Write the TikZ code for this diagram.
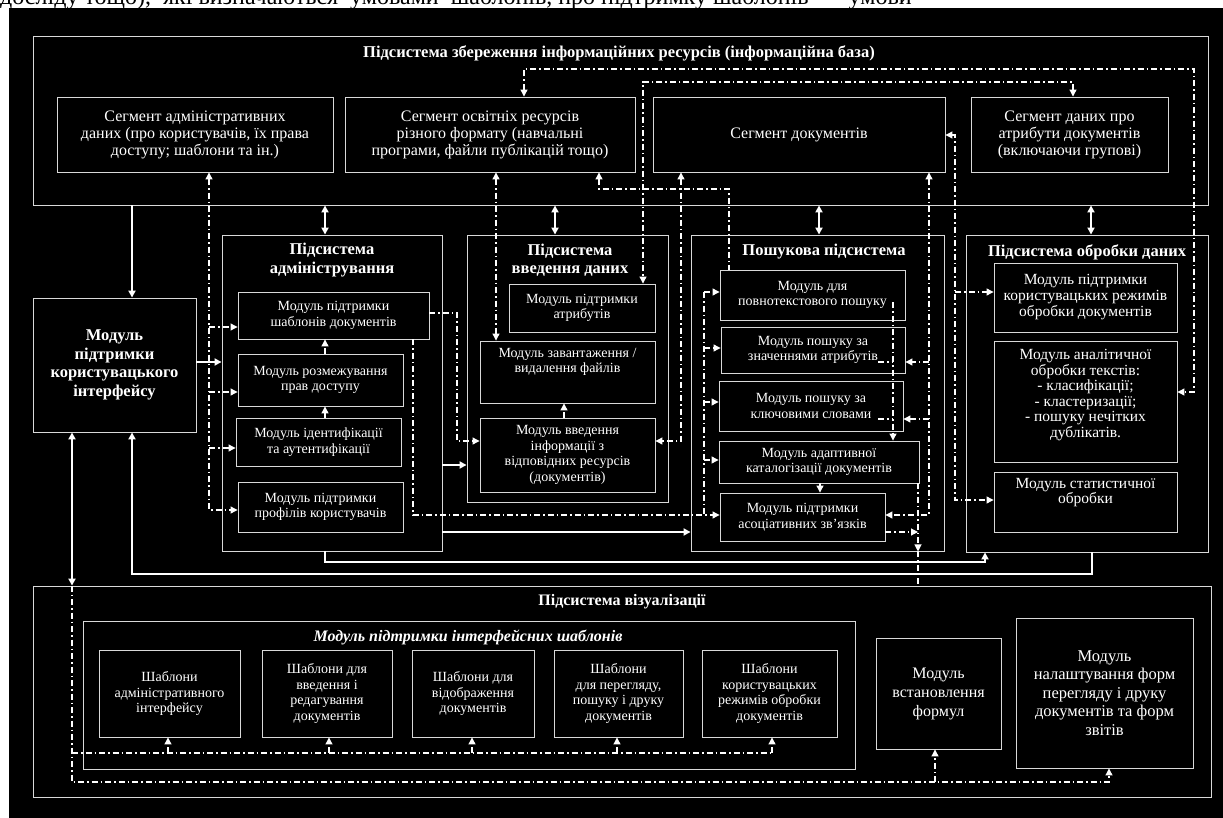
\documentclass[tikz,border=0pt]{standalone}
\usepackage{fontspec}
\setmainfont{Liberation Serif}
\usetikzlibrary{arrows.meta,calc}
\begin{document}
\begin{tikzpicture}[x=1pt,y=-1pt,
  >={Triangle[length=7pt,width=7pt]},
  box/.style={draw=white!85!black, line width=0.9pt, text=white, align=center, inner sep=0pt,
    font=\fontsize{14}{15.5}\selectfont},
  segbox/.style={box, font=\fontsize{16}{17}\selectfont},
  pbox/.style={box, font=\fontsize{15.5}{16}\selectfont},
  txt/.style={text=white, align=center, inner sep=0pt, font=\fontsize{14}{15.5}\selectfont},
  ptxt/.style={txt, font=\fontsize{15.5}{15.6}\selectfont},
  ttl/.style={text=white, align=center, inner sep=0pt, font=\bfseries\fontsize{16.5}{18.5}\selectfont},
  sol/.style={draw=white, line width=1.8pt},
  dd/.style={draw=white, line width=1.1pt, dash pattern=on 6pt off 3pt on 1.5pt off 3pt}
]
\useasboundingbox (0,0) rectangle (1223,818);
\fill[white] (0,0) rectangle (1223,818);
\fill[black] (9,8) rectangle (1223,818);
\begin{scope}
\clip (0,0) rectangle (1223,8);
\node[anchor=base west, inner sep=0pt, font=\fontsize{24}{24}\selectfont] (cuttext) at (0,5)
  {досліду тощо),\ \ які визначаються\ \ умовами\ \ шаблонів, про підтримку шаблонів\hspace{40pt}умови};
\end{scope}

% helper coordinates
\foreach \n in {72,132,168,209,325,329,413,457,472,496,524,555,564,599,617,643,681,704,729,772,773,819,820,878,893,918,929,935,955,985,1073,1091,1092,1109,1194}
  {\coordinate (v\n) at (\n,0);}
\foreach \n in {69,82,135,189,292,302,313,327,348,362,392,402,419,441,448,460,465,500,510,515,532,562,574,753,782}
  {\coordinate (h\n) at (0,\n);}

% ---------- storage subsystem ----------
\node[box, minimum width=1175pt, minimum height=169pt] (storage) at (620.5,120.5) {};
\node[ttl, font=\bfseries\fontsize{16.5}{17}\selectfont] (storaget) at (619,53)
  {Підсистема збереження інформаційних ресурсів (інформаційна база)};
\node[segbox, minimum width=276pt, minimum height=75pt] (seg1) at (195,134.5)
  {Сегмент адміністративних\\даних (про користувачів, їх права\\доступу; шаблони та ін.)};
\node[segbox, minimum width=290pt, minimum height=75pt] (seg2) at (490,134.5)
  {Сегмент освітніх ресурсів\\різного формату (навчальні\\програми, файли публікацій тощо)};
\node[segbox, minimum width=292pt, minimum height=75pt] (seg3) at (799,134.5)
  {Сегмент документів};
\node[segbox, minimum width=197pt, minimum height=75pt] (seg4) at (1069.5,134.5)
  {Сегмент даних про\\атрибути документів\\(включаючи групові)};

% ---------- UI module ----------
\node[box, minimum width=163pt, minimum height=134pt, font=\bfseries\fontsize{16.5}{18.5}\selectfont] (ui) at (114.5,365)
  {Модуль\\підтримки\\користувацького\\інтерфейсу};

% ---------- admin subsystem ----------
\node[box, minimum width=220pt, minimum height=316pt] (admin) at (332,393) {};
\node[ttl] (admint) at (332,260) {Підсистема\\адміністрування};
\node[box, minimum width=191pt, minimum height=47pt] (A1) at (333.5,315.5) {Модуль підтримки\\шаблонів документів};
\node[box, minimum width=165pt, minimum height=52pt] (A2) at (320.5,380) {Модуль розмежування\\прав доступу};
\node[box, minimum width=165pt, minimum height=48pt] (A3) at (318.5,442) {Модуль ідентифікації\\та аутентифікації};
\node[box, minimum width=165pt, minimum height=50pt] (A4) at (320.5,507) {Модуль підтримки\\профілів користувачів};

% ---------- data entry subsystem ----------
\node[box, minimum width=201pt, minimum height=267pt] (entry) at (567.5,368.5) {};
\node[ttl] (entryt) at (570,260) {Підсистема\\введення даних};
\node[box, minimum width=146pt, minimum height=48pt] (D1) at (582,308) {Модуль підтримки\\атрибутів};
\node[box, minimum width=175pt, minimum height=62pt] (D2) at (567.5,372) {};
\node[txt] (D2t) at (567.5,362) {Модуль завантаження /\\видалення файлів};
\node[box, minimum width=175pt, minimum height=74pt] (D3) at (567.5,455)
  {Модуль введення\\інформації з\\відповідних ресурсів\\(документів)};

% ---------- search subsystem ----------
\node[box, minimum width=253pt, minimum height=316pt] (search) at (817.5,393) {};
\node[ttl] (searcht) at (824,252) {Пошукова підсистема};
\node[box, minimum width=185pt, minimum height=50pt] (S1) at (812.5,295) {Модуль для\\повнотекстового пошуку};
\node[box, minimum width=184pt, minimum height=46pt] (S2) at (813,350) {Модуль пошуку за\\значеннями атрибутів};
\node[box, minimum width=184pt, minimum height=50pt] (S3) at (811,406) {Модуль пошуку за\\ключовими словами};
\node[box, minimum width=200pt, minimum height=42pt] (S4) at (819,462) {Модуль адаптивної\\каталогізації документів};
\node[box, minimum width=165pt, minimum height=48pt] (S5) at (802.5,517) {Модуль підтримки\\асоціативних зв’язків};

% ---------- processing subsystem ----------
\node[box, minimum width=242pt, minimum height=317pt] (proc) at (1087,393.5) {};
\node[ttl] (proct) at (1087,252) {Підсистема обробки даних};
\node[pbox, minimum width=183pt, minimum height=69pt] (P1) at (1085.5,297.5)
  {Модуль підтримки\\користувацьких режимів\\обробки документів};
\node[box, minimum width=183pt, minimum height=121pt] (P2) at (1085.5,401.5) {};
\node[ptxt] (P2t) at (1085.5,395)
  {Модуль аналітичної\\обробки текстів:\\- класифікації;\\- кластеризації;\\- пошуку нечітких\\дублікатів.};
\node[box, minimum width=183pt, minimum height=60pt] (P3) at (1085.5,502) {};
\node[ptxt] (P3t) at (1085.5,492.5) {Модуль статистичної\\обробки};

% ---------- visualization subsystem ----------
\node[box, minimum width=1178pt, minimum height=211pt] (vis) at (622,691.5) {};
\node[ttl, font=\bfseries\fontsize{16}{17}\selectfont] (vist) at (622,602) {Підсистема візуалізації};
\node[box, minimum width=772pt, minimum height=148pt] (inner) at (469,695) {};
\node[ttl, font=\bfseries\itshape\fontsize{16}{18}\selectfont] (innert) at (468,637) {Модуль підтримки інтерфейсних шаблонів};
\node[box, minimum width=141pt, minimum height=87pt] (T1) at (169.5,693.5) {Шаблони\\адміністративного\\інтерфейсу};
\node[box, minimum width=130pt, minimum height=87pt] (T2) at (327,693.5) {Шаблони для\\введення і\\редагування\\документів};
\node[box, minimum width=122pt, minimum height=87pt] (T3) at (473,693.5) {Шаблони для\\відображення\\документів};
\node[box, minimum width=129pt, minimum height=87pt] (T4) at (618.5,693.5) {Шаблони\\для перегляду,\\пошуку і друку\\документів};
\node[box, minimum width=135pt, minimum height=87pt] (T5) at (769.5,693.5) {Шаблони\\користувацьких\\режимів обробки\\документів};
\node[box, minimum width=125pt, minimum height=111pt, font=\fontsize{16}{19}\selectfont] (F) at (938.5,693.5) {Модуль\\встановлення\\формул};
\node[box, minimum width=177pt, minimum height=150pt, font=\fontsize{16.5}{18.5}\selectfont] (M) at (1104.5,693)
  {Модуль\\налаштування форм\\перегляду і друку\\документів та форм\\звітів};

% ---------- solid connectors ----------
\draw[sol,->] (storage.south -| v132) -- (ui.north -| v132);
\draw[sol,->] (ui.east |- h362) -- (admin.west |- h362);
\draw[sol,<->] (storage.south -| v325) -- (admin.north -| v325);
\draw[sol,<->] (storage.south -| v555) -- (entry.north -| v555);
\draw[sol,<->] (storage.south -| v819) -- (search.north -| v819);
\draw[sol,<->] (storage.south -| v1091) -- (proc.north -| v1091);
\draw[sol,->] (admin.east |- h465) -- (entry.west |- h465);
\draw[sol,->] (admin.east |- h532) -- (search.west |- h532);
\draw[sol,->] (admin.south -| v325) -- (v325 |- h562) -- (v985 |- h562) -- (proc.south -| v985);
\draw[sol,->] (proc.south -| v1092) -- (v1092 |- h574) -- (v132 |- h574) -- (ui.south -| v132);
\draw[sol,<->] (ui.south -| v72) -- (vis.north -| v72);

% ---------- dash-dot connectors ----------
% segment 1 <-> admin modules
\draw[dd,<->] (seg1.south -| v209) -- (v209 |- h510) -- (A4.west |- h510);
\draw[dd,->] (v209 |- h327) -- (A1.west |- h327);
\draw[dd,->] (v209 |- h392) -- (A2.west |- h392);
\draw[dd,->] (v209 |- h448) -- (A3.west |- h448);
\draw[dd,->] (A2.north -| v325) -- (A1.south -| v325);
\draw[dd,->] (A3.north -| v325) -- (A2.south -| v325);
% admin templates -> data input
\draw[dd,->] (A1.east |- h313) -- (v457 |- h313) -- (v457 |- h441) -- (D3.west |- h441);
% admin templates -> search modules
\draw[dd,->] (A1.south -| v413) -- (v413 |- h515) -- (S5.west |- h515);
\draw[dd] (v704 |- h292) -- (v704 |- h515);
\draw[dd,->] (v704 |- h292) -- (S1.west |- h292);
\draw[dd,->] (v704 |- h348) -- (S2.west |- h348);
\draw[dd,->] (v704 |- h402) -- (S3.west |- h402);
\draw[dd,->] (v704 |- h460) -- (S4.west |- h460);
% data entry internal
\draw[dd,->] (D3.north -| v564) -- (D2.south -| v564);
% segment 2 <-> file upload
\draw[dd,<->] (seg2.south -| v496) -- (D2.north -| v496);
% segment 2 <-> analytical module
\draw[dd,<->] (seg2.north -| v524) -- (v524 |- h69) -- (v1194 |- h69) -- (v1194 |- h392) -- (P2.east |- h392);
% segment 4 <-> attributes module
\draw[dd,<->] (seg4.north -| v1073) -- (v1073 |- h82) -- (v643 |- h82) -- (D1.north -| v643);
% segment 2 <- full-text search
\draw[dd,<-] (seg2.south -| v599) -- (v599 |- h189) -- (v729 |- h189) -- (S1.north -| v729);
% segment 3 <-> data input
\draw[dd,<->] (seg3.south -| v681) -- (v681 |- h441) -- (D3.east |- h441);
% segment 3 <-> search modules
\draw[dd,<->] (seg3.south -| v929) -- (v929 |- h515) -- (S5.east |- h515);
\draw[dd,->] (v929 |- h362) -- (S2.east |- h362);
\draw[dd,->] (v929 |- h419) -- (S3.east |- h419);
% segment 3 <-> processing modules
\draw[dd,<->] (seg3.east |- h135) -- (v955 |- h135) -- (v955 |- h500) -- (P3.west |- h500);
\draw[dd,->] (v955 |- h292) -- (P1.west |- h292);
% search internal
\draw[dd,->] (v893 |- h302) -- (S4.north -| v893);
\draw[dd] (v878 |- h362) -- (v893 |- h362);
\draw[dd] (v878 |- h419) -- (v893 |- h419);
\draw[dd,->] (S4.south -| v820) -- (S5.north -| v820);
\draw[dd,->] (S5.east |- h532) -- (v918 |- h532);
\draw[dd,->] (S4.south -| v918) -- (search.south -| v918);
\draw[dd] (search.south -| v918) -- (vis.north -| v918);
% visualization routes
\draw[dd,->] (vis.north -| v72) -- (v72 |- h782) -- (v1109 |- h782) -- (M.south -| v1109);
\draw[dd,->] (v935 |- h782) -- (F.south -| v935);
\draw[dd] (v72 |- h753) -- (v773 |- h753);
\draw[dd,->] (v168 |- h753) -- (T1.south -| v168);
\draw[dd,->] (v329 |- h753) -- (T2.south -| v329);
\draw[dd,->] (v472 |- h753) -- (T3.south -| v472);
\draw[dd,->] (v617 |- h753) -- (T4.south -| v617);
\draw[dd,->] (v772 |- h753) -- (T5.south -| v772);
\end{tikzpicture}
\end{document}
